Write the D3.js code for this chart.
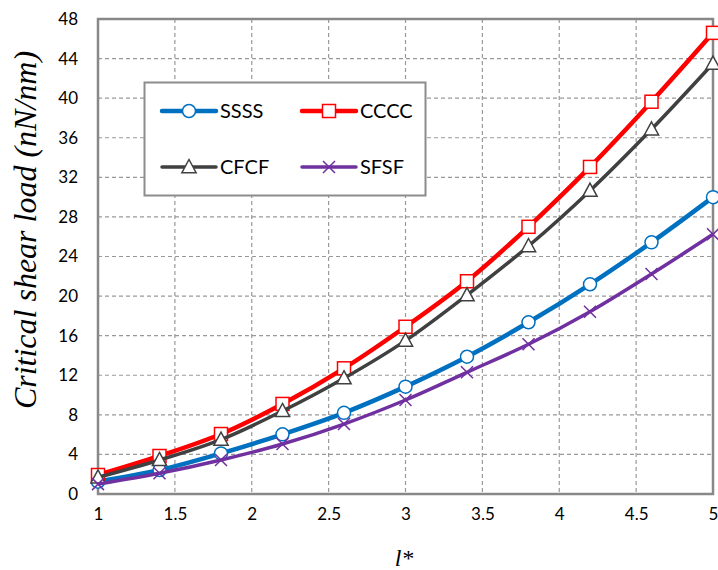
<!DOCTYPE html>
<html><head><meta charset="utf-8">
<script src="https://cdn.jsdelivr.net/npm/d3@7"></script>
<style>body{margin:0;background:#fff}</style>
</head><body>
<svg id="c" width="718" height="570"></svg>
<script>
const lengths = [1, 1.4, 1.8, 2.2, 2.6, 3.0, 3.4, 3.8, 4.2, 4.6, 5.0];
const ssss = [1.25, 2.42, 4.1, 6.03, 8.2, 10.85, 13.87, 17.35, 21.19, 25.43, 30.0];
const cccc = [1.92, 3.84, 6.06, 9.1, 12.7, 16.9, 21.5, 27.0, 33.05, 39.64, 46.6];
const cfcf = [1.69, 3.44, 5.5, 8.39, 11.7, 15.5, 20.1, 25.06, 30.65, 36.85, 43.5];
const sfsf = [1.0, 2.09, 3.44, 5.05, 7.07, 9.5, 12.3, 15.13, 18.42, 22.23, 26.24];
const xTicks = [1, 1.5, 2, 2.5, 3, 3.5, 4, 4.5, 5];
const yTicks = [0, 4, 8, 12, 16, 20, 24, 28, 32, 36, 40, 44, 48];
const seriesNames = ["SSSS", "CCCC", "CFCF", "SFSF"];

const series = [
  {name: seriesNames[0], values: ssss, color: "#0070C0", width: 4.5, marker: "circle"},
  {name: seriesNames[1], values: cccc, color: "#FF0000", width: 4.5, marker: "square"},
  {name: seriesNames[2], values: cfcf, color: "#404040", width: 3.5, marker: "triangle"},
  {name: seriesNames[3], values: sfsf, color: "#7030A0", width: 3.5, marker: "cross"}
];

const svg = d3.select("#c");
const L = 98, R = 713, T = 19, B = 494;
const x = d3.scaleLinear().domain([1, 5]).range([L, R]);
const y = d3.scaleLinear().domain([0, 48]).range([B, T]);

// grid
const g = svg.append("g");
g.selectAll(".vg").data(xTicks.slice(1, -1)).enter().append("line")
  .attr("x1", d => x(d)).attr("x2", d => x(d)).attr("y1", T).attr("y2", B)
  .attr("stroke", "#999").attr("stroke-width", 1.2).attr("stroke-dasharray", "4,3");
g.selectAll(".hg").data(yTicks.slice(1, -1)).enter().append("line")
  .attr("y1", d => y(d)).attr("y2", d => y(d)).attr("x1", L).attr("x2", R)
  .attr("stroke", "#999").attr("stroke-width", 1.2).attr("stroke-dasharray", "4,3");

// plot border
svg.append("rect").attr("x", L).attr("y", T).attr("width", R - L).attr("height", B - T)
  .attr("fill", "none").attr("stroke", "#888").attr("stroke-width", 2.5);

// axes
const xAxis = d3.axisBottom(x).tickValues(xTicks).tickSize(0).tickPadding(14).tickFormat(d3.format("~g"));
const yAxis = d3.axisLeft(y).tickValues(yTicks).tickSize(0).tickPadding(14);
const xa = svg.append("g").attr("transform", `translate(0,${B})`).call(xAxis);
const ya = svg.append("g").attr("transform", `translate(${L - 6},0)`).call(yAxis);
[xa, ya].forEach(a => {
  a.select(".domain").remove();
  a.selectAll("text").attr("font-family", "Lato, 'Open Sans', sans-serif").attr("font-size", 17).attr("fill", "#000");
});

// lines
const line = d3.line().x((d, i) => x(lengths[i])).y(d => y(d)).curve(d3.curveCatmullRom.alpha(0.5));

function marker(sel, type, color, cx, cy) {
  if (type === "circle") {
    sel.append("circle").attr("cx", cx).attr("cy", cy).attr("r", 6.5)
      .attr("fill", "#fff").attr("stroke", color).attr("stroke-width", 1.5);
  } else if (type === "square") {
    sel.append("rect").attr("x", cx - 6.5).attr("y", cy - 6.5).attr("width", 13).attr("height", 13)
      .attr("fill", "#fff").attr("stroke", color).attr("stroke-width", 1.5);
  } else if (type === "triangle") {
    const s = 7.5;
    sel.append("path").attr("d", `M${cx},${cy - s}L${cx + s * 0.95},${cy + s * 0.75}L${cx - s * 0.95},${cy + s * 0.75}Z`)
      .attr("fill", "#fff").attr("stroke", color).attr("stroke-width", 1.5);
  } else {
    const s = 6;
    sel.append("path").attr("d", `M${cx - s},${cy - s}L${cx + s},${cy + s}M${cx - s},${cy + s}L${cx + s},${cy - s}`)
      .attr("fill", "none").attr("stroke", color).attr("stroke-width", 1.5);
  }
}

series.forEach(s => {
  const sg = svg.append("g");
  sg.append("path").datum(s.values).attr("d", line).attr("fill", "none")
    .attr("stroke", s.color).attr("stroke-width", s.width).attr("stroke-linejoin", "round");
  s.values.forEach((v, i) => marker(sg, s.marker, s.color, x(lengths[i]), y(v)));
});

// legend
const lg = svg.append("g");
lg.append("rect").attr("x", 144.5).attr("y", 82.5).attr("width", 281).attr("height", 113)
  .attr("fill", "#fff").attr("stroke", "#8c8c8c").attr("stroke-width", 2);
const pos = [[162, 111], [302, 111], [162, 167], [302, 167]];
series.forEach((s, i) => {
  const [lx, ly] = pos[i];
  lg.append("line").attr("x1", lx).attr("x2", lx + 54).attr("y1", ly).attr("y2", ly)
    .attr("stroke", s.color).attr("stroke-width", s.width).attr("stroke-linecap", "round");
  marker(lg, s.marker, s.color, lx + 27, ly);
  lg.append("text").attr("x", lx + 58).attr("y", ly).attr("dy", "0.35em")
    .attr("font-family", "Lato, 'Open Sans', sans-serif").attr("font-size", 20).attr("fill", "#000")
    .text(s.name);
});

// titles
svg.append("text").attr("transform", `translate(36,230) rotate(-90)`)
  .attr("text-anchor", "middle").attr("font-family", "Liberation Serif")
  .attr("font-style", "italic").attr("font-size", 32).attr("fill", "#000")
  .text("Critical shear load (nN/nm)");
svg.append("text").attr("x", 404).attr("y", 566).attr("text-anchor", "middle")
  .attr("font-family", "Liberation Serif")
  .attr("font-style", "italic").attr("font-size", 24).attr("fill", "#000")
  .text("l*");
</script>
</body></html>
